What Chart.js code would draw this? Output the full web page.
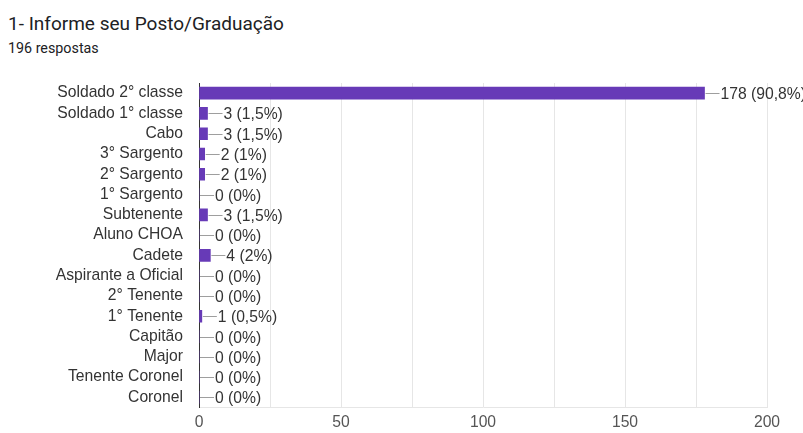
<!DOCTYPE html>
<html>
<head>
<meta charset="utf-8">
<script src="https://cdn.jsdelivr.net/npm/chart.js@4.4.1/dist/chart.umd.min.js"></script>
<style>
  html, body { margin: 0; padding: 0; background: #fff; }
  #wrap { position: relative; width: 803px; height: 433px; overflow: hidden; font-family: Roboto, Arial, sans-serif; }
  #title { position: absolute; left: 8px; top: 12px; font-size: 19px; color: #202124; white-space: nowrap; }
  #sub { position: absolute; left: 8px; top: 40px; font-size: 14.3px; color: #202124; white-space: nowrap; }
  #c { position: absolute; left: 0; top: 0; }
</style>
</head>
<body>
<div id="wrap">
  <div id="title">1- Informe seu Posto/Graduação</div>
  <div id="sub">196 respostas</div>
  <canvas id="c" width="803" height="433"></canvas>
</div>
<script>
/* dados do gráfico */
const categories = [
  "Soldado 2° classe", "Soldado 1° classe", "Cabo", "3° Sargento", "2° Sargento",
  "1° Sargento", "Subtenente", "Aluno CHOA", "Cadete", "Aspirante a Oficial",
  "2° Tenente", "1° Tenente", "Capitão", "Major", "Tenente Coronel", "Coronel"
];
const counts = [178, 3, 3, 2, 2, 0, 3, 0, 4, 0, 0, 1, 0, 0, 0, 0];
const percents = ["90,8%", "1,5%", "1,5%", "1%", "1%", "0%", "1,5%", "0%", "2%", "0%", "0%", "0,5%", "0%", "0%", "0%", "0%"];
const xTicks = [0, 50, 100, 150, 200];

const FONT = '"Liberation Sans", Arial, sans-serif';
const FSIZE = 15.7;

// rótulos com linha guia depois de cada barra
const valueLabels = {
  id: 'valueLabels',
  afterDatasetsDraw(chart) {
    const ctx = chart.ctx;
    const xs = chart.scales.x;
    const meta = chart.getDatasetMeta(0);
    ctx.save();
    ctx.font = FSIZE + 'px ' + FONT;
    ctx.textBaseline = 'middle';
    meta.data.forEach((bar, i) => {
      const x0 = xs.getPixelForValue(counts[i]) + 1;
      const y = Math.round(bar.y) + 0.5;
      ctx.strokeStyle = '#9e9e9e';
      ctx.lineWidth = 1;
      ctx.beginPath();
      ctx.moveTo(x0, y);
      ctx.lineTo(x0 + 14, y);
      ctx.stroke();
      ctx.fillStyle = '#333333';
      ctx.fillText(counts[i] + ' (' + percents[i] + ')', x0 + 15, y + 1);
    });
    ctx.restore();
  }
};

new Chart(document.getElementById('c'), {
  type: 'bar',
  data: {
    labels: categories,
    datasets: [{
      data: counts,
      backgroundColor: '#673ab7',
      barThickness: 12
    }]
  },
  options: {
    indexAxis: 'y',
    responsive: false,
    animation: false,
    layout: { padding: { top: 83, right: 36, left: 0, bottom: 0 } },
    plugins: { legend: { display: false }, tooltip: { enabled: false }, title: { display: false } },
    scales: {
      x: {
        min: 0, max: 200,
        afterFit(s) { s.height = 25; },
        ticks: {
          stepSize: 25, padding: 6, color: '#555555',
          font: { family: FONT, size: FSIZE },
          callback: v => xTicks.includes(v) ? v : ''
        },
        grid: { color: '#e6e6e6', drawTicks: false },
        border: { color: '#e6e6e6' }
      },
      y: {
        afterFit(s) { s.width = 199; },
        ticks: {
          padding: 16, color: '#333333', autoSkip: false,
          font: { family: FONT, size: FSIZE }
        },
        grid: { display: false, drawTicks: false },
        border: { color: '#333333', width: 1 }
      }
    }
  },
  plugins: [valueLabels]
});
</script>
</body>
</html>
